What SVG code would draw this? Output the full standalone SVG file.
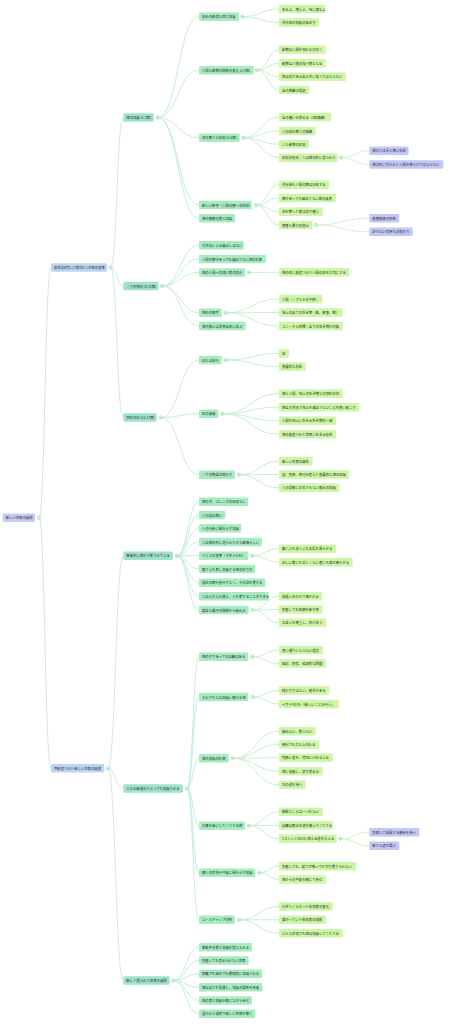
<svg xmlns="http://www.w3.org/2000/svg" width="451" height="1024" viewBox="0 0 451 1024">
<style>
rect{rx:1.3px;ry:1.3px}
.r{fill:#c8cbf6}.l1{fill:#bcd5f2}.l2{fill:#a0e2cd}.l3{fill:#a6ecc0}.l4{fill:#cdf6a6}.l5{fill:#c3c7f7}
text{font-family:"Noto Sans CJK JP","Noto Sans",sans-serif;font-size:3.36px;fill:#2a2a2a;dominant-baseline:central}
path{fill:none;stroke-width:1}
.k0{stroke:#dcdcf7}.k1{stroke:#d6e4f4}.k2{stroke:#c4eedb}.k3{stroke:#c6f0d2}.k4{stroke:#d6f1cc}
.c{fill:#fff;stroke:#8fcfa8;stroke-width:.6}
.d{fill:#6aa884}
</style>
<g id="connectors">
<path class="k0" d="M39,517.8 C45,517.8 45,267.5 51,267.5"/>
<path class="k0" d="M39,517.8 C45,517.8 45,768.3 51,768.3"/>
<path class="k1" d="M110.5,267.5 C116.9,267.5 116.9,117.5 123.3,117.5"/>
<path class="k1" d="M110.5,267.5 C116.9,267.5 116.9,286 123.3,286"/>
<path class="k1" d="M110.5,267.5 C116.9,267.5 116.9,417.5 123.3,417.5"/>
<path class="k1" d="M108,768.3 C115.6,768.3 115.6,555.8 123.3,555.8"/>
<path class="k1" d="M108,768.3 C115.6,768.3 115.6,788.5 123.3,788.5"/>
<path class="k1" d="M108,768.3 C115.6,768.3 115.6,980.5 123.3,980.5"/>
<path class="k2" d="M157.7,117.5 C178.3,117.5 178.3,16.7 199,16.7"/>
<path class="k2" d="M157.7,117.5 C178.3,117.5 178.3,70.2 199,70.2"/>
<path class="k2" d="M157.7,117.5 C178.3,117.5 178.3,137.7 199,137.7"/>
<path class="k2" d="M157.7,117.5 C178.3,117.5 178.3,205 199,205"/>
<path class="k2" d="M157.7,117.5 C178.3,117.5 178.3,218.3 199,218.3"/>
<path class="k2" d="M162,286 C180.5,286 180.5,245.3 199,245.3"/>
<path class="k2" d="M162,286 C180.5,286 180.5,259 199,259"/>
<path class="k2" d="M162,286 C180.5,286 180.5,272.5 199,272.5"/>
<path class="k2" d="M162,286 C180.5,286 180.5,312.8 199,312.8"/>
<path class="k2" d="M162,286 C180.5,286 180.5,326 199,326"/>
<path class="k2" d="M160.7,417.5 C179.8,417.5 179.8,360 199,360"/>
<path class="k2" d="M160.7,417.5 C179.8,417.5 179.8,413.7 199,413.7"/>
<path class="k2" d="M160.7,417.5 C179.8,417.5 179.8,474.7 199,474.7"/>
<path class="k2" d="M176.7,555.8 C187.8,555.8 187.8,501.7 199,501.7"/>
<path class="k2" d="M176.7,555.8 C187.8,555.8 187.8,515 199,515"/>
<path class="k2" d="M176.7,555.8 C187.8,555.8 187.8,528.3 199,528.3"/>
<path class="k2" d="M176.7,555.8 C187.8,555.8 187.8,542 199,542"/>
<path class="k2" d="M176.7,555.8 C187.8,555.8 187.8,555.7 199,555.7"/>
<path class="k2" d="M176.7,555.8 C187.8,555.8 187.8,569 199,569"/>
<path class="k2" d="M176.7,555.8 C187.8,555.8 187.8,582.7 199,582.7"/>
<path class="k2" d="M176.7,555.8 C187.8,555.8 187.8,596.3 199,596.3"/>
<path class="k2" d="M176.7,555.8 C187.8,555.8 187.8,610 199,610"/>
<path class="k2" d="M187,788.5 C193,788.5 193,656.8 199,656.8"/>
<path class="k2" d="M187,788.5 C193,788.5 193,697 199,697"/>
<path class="k2" d="M187,788.5 C193,788.5 193,758.3 199,758.3"/>
<path class="k2" d="M187,788.5 C193,788.5 193,825.7 199,825.7"/>
<path class="k2" d="M187,788.5 C193,788.5 193,872.8 199,872.8"/>
<path class="k2" d="M187,788.5 C193,788.5 193,919.8 199,919.8"/>
<path class="k2" d="M173.3,980.5 C186.1,980.5 186.1,947.2 199,947.2"/>
<path class="k2" d="M173.3,980.5 C186.1,980.5 186.1,960.5 199,960.5"/>
<path class="k2" d="M173.3,980.5 C186.1,980.5 186.1,973.8 199,973.8"/>
<path class="k2" d="M173.3,980.5 C186.1,980.5 186.1,987.2 199,987.2"/>
<path class="k2" d="M173.3,980.5 C186.1,980.5 186.1,1000.5 199,1000.5"/>
<path class="k2" d="M173.3,980.5 C186.1,980.5 186.1,1013.8 199,1013.8"/>
<path class="k3" d="M242.3,16.7 C260.6,16.7 260.6,9 279,9"/>
<path class="k3" d="M242.3,16.7 C260.6,16.7 260.6,22.5 279,22.5"/>
<path class="k3" d="M257,70.2 C268,70.2 268,49.8 279,49.8"/>
<path class="k3" d="M257,70.2 C268,70.2 268,63.3 279,63.3"/>
<path class="k3" d="M257,70.2 C268,70.2 268,76.7 279,76.7"/>
<path class="k3" d="M257,70.2 C268,70.2 268,90 279,90"/>
<path class="k3" d="M243.7,137.7 C261.3,137.7 261.3,117 279,117"/>
<path class="k3" d="M243.7,137.7 C261.3,137.7 261.3,131 279,131"/>
<path class="k3" d="M243.7,137.7 C261.3,137.7 261.3,144.3 279,144.3"/>
<path class="k3" d="M243.7,137.7 C261.3,137.7 261.3,157.7 279,157.7"/>
<path class="k4" d="M341,157.7 C355.1,157.7 355.1,150.8 369.3,150.8"/>
<path class="k4" d="M341,157.7 C355.1,157.7 355.1,164.5 369.3,164.5"/>
<path class="k3" d="M256,205 C267.5,205 267.5,184.7 279,184.7"/>
<path class="k3" d="M256,205 C267.5,205 267.5,198 279,198"/>
<path class="k3" d="M256,205 C267.5,205 267.5,211.7 279,211.7"/>
<path class="k3" d="M256,205 C267.5,205 267.5,225 279,225"/>
<path class="k4" d="M316,225 C342.6,225 342.6,218.2 369.3,218.2"/>
<path class="k4" d="M316,225 C342.6,225 342.6,231.8 369.3,231.8"/>
<path class="k3" d="M249,272.5 C264,272.5 264,272.3 279,272.3"/>
<path class="k3" d="M225.7,312.8 C252.3,312.8 252.3,299 279,299"/>
<path class="k3" d="M225.7,312.8 C252.3,312.8 252.3,312.5 279,312.5"/>
<path class="k3" d="M225.7,312.8 C252.3,312.8 252.3,326 279,326"/>
<path class="k3" d="M225.7,360 C252.3,360 252.3,353.5 279,353.5"/>
<path class="k3" d="M225.7,360 C252.3,360 252.3,366.8 279,366.8"/>
<path class="k3" d="M222.3,413.7 C250.6,413.7 250.6,393.8 279,393.8"/>
<path class="k3" d="M222.3,413.7 C250.6,413.7 250.6,407.2 279,407.2"/>
<path class="k3" d="M222.3,413.7 C250.6,413.7 250.6,420.8 279,420.8"/>
<path class="k3" d="M222.3,413.7 C250.6,413.7 250.6,434.2 279,434.2"/>
<path class="k3" d="M239,474.7 C259,474.7 259,461.2 279,461.2"/>
<path class="k3" d="M239,474.7 C259,474.7 259,474.5 279,474.5"/>
<path class="k3" d="M239,474.7 C259,474.7 259,487.8 279,487.8"/>
<path class="k3" d="M252,555.7 C265.5,555.7 265.5,548.8 279,548.8"/>
<path class="k3" d="M252,555.7 C265.5,555.7 265.5,562.2 279,562.2"/>
<path class="k3" d="M252.7,610 C265.8,610 265.8,596.2 279,596.2"/>
<path class="k3" d="M252.7,610 C265.8,610 265.8,609.5 279,609.5"/>
<path class="k3" d="M252.7,610 C265.8,610 265.8,622.8 279,622.8"/>
<path class="k3" d="M252.3,656.8 C265.6,656.8 265.6,650.2 279,650.2"/>
<path class="k3" d="M252.3,656.8 C265.6,656.8 265.6,663.5 279,663.5"/>
<path class="k3" d="M252.7,697 C265.8,697 265.8,690.5 279,690.5"/>
<path class="k3" d="M252.7,697 C265.8,697 265.8,704 279,704"/>
<path class="k3" d="M232.7,758.3 C255.8,758.3 255.8,731.2 279,731.2"/>
<path class="k3" d="M232.7,758.3 C255.8,758.3 255.8,744.5 279,744.5"/>
<path class="k3" d="M232.7,758.3 C255.8,758.3 255.8,757.8 279,757.8"/>
<path class="k3" d="M232.7,758.3 C255.8,758.3 255.8,771.3 279,771.3"/>
<path class="k3" d="M232.7,758.3 C255.8,758.3 255.8,784.8 279,784.8"/>
<path class="k3" d="M249,825.7 C264,825.7 264,811.8 279,811.8"/>
<path class="k3" d="M249,825.7 C264,825.7 264,825.3 279,825.3"/>
<path class="k3" d="M249,825.7 C264,825.7 264,838.7 279,838.7"/>
<path class="k4" d="M340.3,838.7 C354.8,838.7 354.8,832.2 369.3,832.2"/>
<path class="k4" d="M340.3,838.7 C354.8,838.7 354.8,845.8 369.3,845.8"/>
<path class="k3" d="M259.3,872.8 C269.1,872.8 269.1,866.2 279,866.2"/>
<path class="k3" d="M259.3,872.8 C269.1,872.8 269.1,879.5 279,879.5"/>
<path class="k3" d="M239,919.8 C259,919.8 259,906.5 279,906.5"/>
<path class="k3" d="M239,919.8 C259,919.8 259,919.8 279,919.8"/>
<path class="k3" d="M239,919.8 C259,919.8 259,933.3 279,933.3"/>
</g>
<g id="root"><rect class="r" x="2.7" y="513.5" width="32.3" height="8.6"/><text x="5.7" y="517.8">新しい世界の展開</text><circle class="c" cx="39" cy="517.8" r="1.7"/><circle class="d" cx="39" cy="517.8" r="0.6"/></g>
<g id="l1a"><rect class="l1" x="51" y="263.2" width="56" height="8.6"/><text x="54" y="267.5">創世記9章1-17節の2つの神の言葉</text><circle class="c" cx="110.5" cy="267.5" r="1.7"/><circle class="d" cx="110.5" cy="267.5" r="0.6"/></g>
<g id="l1b"><rect class="l1" x="51" y="764" width="53.3" height="8.6"/><text x="54" y="768.3">再創造された新しい世界の展望</text><circle class="c" cx="108" cy="768.3" r="1.7"/><circle class="d" cx="108" cy="768.3" r="0.6"/></g>
<g id="a1"><rect class="l2" x="123.3" y="113.2" width="30.4" height="8.6"/><text x="126.3" y="117.5">神の祝福 (1-7節)</text><circle class="c" cx="157.7" cy="117.5" r="1.7"/><circle class="d" cx="157.7" cy="117.5" r="0.6"/></g>
<g id="a2"><rect class="l2" x="123.3" y="281.7" width="35" height="8.6"/><text x="126.3" y="286">ノアの契約 (8-11節)</text><circle class="c" cx="162" cy="286" r="1.7"/><circle class="d" cx="162" cy="286" r="0.6"/></g>
<g id="a3"><rect class="l2" x="123.3" y="413.2" width="33.4" height="8.6"/><text x="126.3" y="417.5">契約の印 (12-17節)</text><circle class="c" cx="160.7" cy="417.5" r="1.7"/><circle class="d" cx="160.7" cy="417.5" r="0.6"/></g>
<g id="b1"><rect class="l2" x="123.3" y="551.5" width="49.7" height="8.6"/><text x="126.3" y="555.8">無条件に神から愛されている</text><circle class="c" cx="176.7" cy="555.8" r="1.7"/><circle class="d" cx="176.7" cy="555.8" r="0.6"/></g>
<g id="b2"><rect class="l2" x="123.3" y="784.2" width="59.7" height="8.6"/><text x="126.3" y="788.5">どんな経過をたどっても祝福される</text><circle class="c" cx="187" cy="788.5" r="1.7"/><circle class="d" cx="187" cy="788.5" r="0.6"/></g>
<g id="b3"><rect class="l2" x="123.3" y="976.2" width="46.4" height="8.6"/><text x="126.3" y="980.5">新しく造られた世界の展開</text><circle class="c" cx="173.3" cy="980.5" r="1.7"/><circle class="d" cx="173.3" cy="980.5" r="0.6"/></g>
<g id="a1-1"><rect class="l3" x="199" y="12.4" width="40" height="8.6"/><text x="202" y="16.7">初めの創造と同じ祝福</text><circle class="c" cx="242.3" cy="16.7" r="1.7"/><circle class="d" cx="242.3" cy="16.7" r="0.6"/></g>
<g id="a1-2"><rect class="l3" x="199" y="65.9" width="54.7" height="8.6"/><text x="202" y="70.2">人間と動物の関係の変化 (2-4節)</text><circle class="c" cx="257" cy="70.2" r="1.7"/><circle class="d" cx="257" cy="70.2" r="0.6"/></g>
<g id="a1-3"><rect class="l3" x="199" y="133.4" width="40.7" height="8.6"/><text x="202" y="137.7">命の尊さと区別 (5-6節)</text><circle class="c" cx="243.7" cy="137.7" r="1.7"/><circle class="d" cx="243.7" cy="137.7" r="0.6"/></g>
<g id="a1-4"><rect class="l3" x="199" y="200.7" width="52.7" height="8.6"/><text x="202" y="205">新しい秩序（人間の罪への対処）</text><circle class="c" cx="256" cy="205" r="1.7"/><circle class="d" cx="256" cy="205" r="0.6"/></g>
<g id="a1-5"><rect class="l3" x="199" y="214" width="36" height="8.6"/><text x="202" y="218.3">神の無限の愛と祝福</text></g>
<g id="a2-1"><rect class="l3" x="199" y="241" width="44.7" height="8.6"/><text x="202" y="245.3">大洪水による滅ぼしはない</text></g>
<g id="a2-2"><rect class="l3" x="199" y="254.7" width="66.7" height="8.6"/><text x="202" y="259">人間の罪があっても滅ぼさない神の約束</text></g>
<g id="a2-3"><rect class="l3" x="199" y="268.2" width="46.3" height="8.6"/><text x="202" y="272.5">神の人間への深い愛の表れ</text><circle class="c" cx="249" cy="272.5" r="1.7"/><circle class="d" cx="249" cy="272.5" r="0.6"/></g>
<g id="a2-4"><rect class="l3" x="199" y="308.5" width="22.7" height="8.6"/><text x="202" y="312.8">契約の相手</text><circle class="c" cx="225.7" cy="312.8" r="1.7"/><circle class="d" cx="225.7" cy="312.8" r="0.6"/></g>
<g id="a2-5"><rect class="l3" x="199" y="321.7" width="46.7" height="8.6"/><text x="202" y="326">神の救いは世界全体に及ぶ</text></g>
<g id="a3-1"><rect class="l3" x="199" y="355.7" width="22.7" height="8.6"/><text x="202" y="360">印とは何か</text><circle class="c" cx="225.7" cy="360" r="1.7"/><circle class="d" cx="225.7" cy="360" r="0.6"/></g>
<g id="a3-2"><rect class="l3" x="199" y="409.4" width="19.3" height="8.6"/><text x="202" y="413.7">虹の意味</text><circle class="c" cx="222.3" cy="413.7" r="1.7"/><circle class="d" cx="222.3" cy="413.7" r="0.6"/></g>
<g id="a3-3"><rect class="l3" x="199" y="470.4" width="36" height="8.6"/><text x="202" y="474.7">ノアの物語の終わり</text><circle class="c" cx="239" cy="474.7" r="1.7"/><circle class="d" cx="239" cy="474.7" r="0.6"/></g>
<g id="b1-1"><rect class="l3" x="199" y="497.4" width="49.3" height="8.6"/><text x="202" y="501.7">神の子、フレンズの区別なし</text></g>
<g id="b1-2"><rect class="l3" x="199" y="510.7" width="26.3" height="8.6"/><text x="202" y="515">人の命は尊い</text></g>
<g id="b1-3"><rect class="l3" x="199" y="524" width="42.3" height="8.6"/><text x="202" y="528.3">人の行動に関わらず祝福</text></g>
<g id="b1-4"><rect class="l3" x="199" y="537.7" width="63" height="8.6"/><text x="202" y="542">人は神の形に造られたから素晴らしい</text></g>
<g id="b1-5"><rect class="l3" x="199" y="551.4" width="49.3" height="8.6"/><text x="202" y="555.7">イエスの言葉（マタイ5:45）</text><circle class="c" cx="252" cy="555.7" r="1.7"/><circle class="d" cx="252" cy="555.7" r="0.6"/></g>
<g id="b1-6"><rect class="l3" x="199" y="564.7" width="56.3" height="8.6"/><text x="202" y="569">敵さえも愛し祝福する神の在り方</text></g>
<g id="b1-7"><rect class="l3" x="199" y="578.4" width="66.3" height="8.6"/><text x="202" y="582.7">過去の罪や善行でなく、今の命を愛する</text></g>
<g id="b1-8"><rect class="l3" x="199" y="592" width="69.7" height="8.6"/><text x="202" y="596.3">人は心を入れ替え、人を愛することができる</text></g>
<g id="b1-9"><rect class="l3" x="199" y="605.7" width="49.7" height="8.6"/><text x="202" y="610">健全な親子の関係から始める</text><circle class="c" cx="252.7" cy="610" r="1.7"/><circle class="d" cx="252.7" cy="610" r="0.6"/></g>
<g id="b2-1"><rect class="l3" x="199" y="652.5" width="49.3" height="8.6"/><text x="202" y="656.8">神の子であっても試練はある</text><circle class="c" cx="252.3" cy="656.8" r="1.7"/><circle class="d" cx="252.3" cy="656.8" r="0.6"/></g>
<g id="b2-2"><rect class="l3" x="199" y="692.7" width="49.3" height="8.6"/><text x="202" y="697">それでもなお祝福し続ける神</text><circle class="c" cx="252.7" cy="697" r="1.7"/><circle class="d" cx="252.7" cy="697" r="0.6"/></g>
<g id="b2-3"><rect class="l3" x="199" y="754" width="29.7" height="8.6"/><text x="202" y="758.3">神の祝福の約束</text><circle class="c" cx="232.7" cy="758.3" r="1.7"/><circle class="d" cx="232.7" cy="758.3" r="0.6"/></g>
<g id="b2-4"><rect class="l3" x="199" y="821.4" width="46" height="8.6"/><text x="202" y="825.7">万事を益にしてくださる神</text><circle class="c" cx="249" cy="825.7" r="1.7"/><circle class="d" cx="249" cy="825.7" r="0.6"/></g>
<g id="b2-5"><rect class="l3" x="199" y="868.5" width="56.3" height="8.6"/><text x="202" y="872.8">個人の状況や不安に関わらず祝福</text><circle class="c" cx="259.3" cy="872.8" r="1.7"/><circle class="d" cx="259.3" cy="872.8" r="0.6"/></g>
<g id="b2-6"><rect class="l3" x="199" y="915.5" width="35.7" height="8.6"/><text x="202" y="919.8">ユースキャンプの例</text><circle class="c" cx="239" cy="919.8" r="1.7"/><circle class="d" cx="239" cy="919.8" r="0.6"/></g>
<g id="b3-1"><rect class="l3" x="199" y="942.9" width="53" height="8.6"/><text x="202" y="947.2">無条件の愛と祝福を受け入れる</text></g>
<g id="b3-2"><rect class="l3" x="199" y="956.2" width="49.7" height="8.6"/><text x="202" y="960.5">失敗しても責められない世界</text></g>
<g id="b3-3"><rect class="l3" x="199" y="969.5" width="63.3" height="8.6"/><text x="202" y="973.8">困難でも挫折でも最終的に祝福される</text></g>
<g id="b3-4"><rect class="l3" x="199" y="982.9" width="63.3" height="8.6"/><text x="202" y="987.2">神は全てを見通し、祝福の場所を用意</text></g>
<g id="b3-5"><rect class="l3" x="199" y="996.2" width="53" height="8.6"/><text x="202" y="1000.5">神の愛と祝福を感じながら歩む</text></g>
<g id="b3-6"><rect class="l3" x="199" y="1009.5" width="56.3" height="8.6"/><text x="202" y="1013.8">置かれた場所で新しい世界を築く</text></g>
<g id="c1"><rect class="l4" x="279" y="4.7" width="46" height="8.6"/><text x="282" y="9">生めよ、増えよ、地に満ちよ</text></g>
<g id="c2"><rect class="l4" x="279" y="18.2" width="40" height="8.6"/><text x="282" y="22.5">洪水後の祝福の始まり</text></g>
<g id="c3"><rect class="l4" x="279" y="45.5" width="46.7" height="8.6"/><text x="282" y="49.8">動物は人間を恐れおののく</text></g>
<g id="c4"><rect class="l4" x="279" y="59" width="46.7" height="8.6"/><text x="282" y="63.3">動物は人間の食べ物となる</text></g>
<g id="c5"><rect class="l4" x="279" y="72.4" width="67" height="8.6"/><text x="282" y="76.7">肉は命である血と共に食べてはならない</text></g>
<g id="c6"><rect class="l4" x="279" y="85.7" width="30" height="8.6"/><text x="282" y="90">血の尊厳の規定</text></g>
<g id="c7"><rect class="l4" x="279" y="112.7" width="52" height="8.6"/><text x="282" y="117">血の償いを求める（3回強調）</text></g>
<g id="c8"><rect class="l4" x="279" y="126.7" width="36.7" height="8.6"/><text x="282" y="131">人の命の尊さの強調</text></g>
<g id="c9"><rect class="l4" x="279" y="140" width="30" height="8.6"/><text x="282" y="144.3">人と動物の区別</text></g>
<g id="c10"><rect class="l4" x="279" y="153.4" width="58.7" height="8.6"/><text x="282" y="157.7">区別の理由：人は神の形に造られた</text><circle class="c" cx="341" cy="157.7" r="1.7"/><circle class="d" cx="341" cy="157.7" r="0.6"/></g>
<g id="e1"><rect class="l5" x="369.3" y="146.5" width="39.4" height="8.6"/><text x="372.3" y="150.8">神のさばきと尊い存在</text></g>
<g id="e2"><rect class="l5" x="369.3" y="160.2" width="74" height="8.6"/><text x="372.3" y="164.5">神の形に作られた人間を傷つけてはならない</text></g>
<g id="c11"><rect class="l4" x="279" y="180.4" width="50.3" height="8.6"/><text x="282" y="184.7">洪水後も人間の罪は存在する</text></g>
<g id="c12"><rect class="l4" x="279" y="193.7" width="57" height="8.6"/><text x="282" y="198">罪があっても滅ぼさない神の意思</text></g>
<g id="c13"><rect class="l4" x="279" y="207.4" width="43.7" height="8.6"/><text x="282" y="211.7">命を奪った者は命で償う</text></g>
<g id="c14"><rect class="l4" x="279" y="220.7" width="33.7" height="8.6"/><text x="282" y="225">復讐と暴力の防止</text><circle class="c" cx="316" cy="225" r="1.7"/><circle class="d" cx="316" cy="225" r="0.6"/></g>
<g id="e3"><rect class="l5" x="369.3" y="213.9" width="30" height="8.6"/><text x="372.3" y="218.2">殺害報復の抑制</text></g>
<g id="e4"><rect class="l5" x="369.3" y="227.5" width="43.4" height="8.6"/><text x="372.3" y="231.8">許せない気持ちの終わり</text></g>
<g id="c15"><rect class="l4" x="279" y="268" width="70.3" height="8.6"/><text x="282" y="272.3">神の形に創造された人間の命を大切にする</text></g>
<g id="c16"><rect class="l4" x="279" y="294.7" width="43.3" height="8.6"/><text x="282" y="299">人間（ノアとその子孫）</text></g>
<g id="c17"><rect class="l4" x="279" y="308.2" width="63.7" height="8.6"/><text x="282" y="312.5">地上の全ての生き物（鳥、家畜、獣）</text></g>
<g id="c18"><rect class="l4" x="279" y="321.7" width="63.7" height="8.6"/><text x="282" y="326">ユニークな特徴：全ての生き物が対象</text></g>
<g id="c19"><rect class="l4" x="279" y="349.2" width="10" height="8.6"/><text x="282" y="353.5">虹</text></g>
<g id="c20"><rect class="l4" x="279" y="362.5" width="26.7" height="8.6"/><text x="282" y="366.8">普遍的な存在</text></g>
<g id="c21"><rect class="l4" x="279" y="389.5" width="63.7" height="8.6"/><text x="282" y="393.8">神と人間、地上の生き物との契約の印</text></g>
<g id="c22"><rect class="l4" x="279" y="402.9" width="80.3" height="8.6"/><text x="282" y="407.2">神は大洪水で地上を滅ぼさないことを思い起こす</text></g>
<g id="c23"><rect class="l4" x="279" y="416.5" width="57" height="8.6"/><text x="282" y="420.8">人間も地上に生きる生き物の一部</text></g>
<g id="c24"><rect class="l4" x="279" y="429.9" width="57" height="8.6"/><text x="282" y="434.2">神の創造された世界に生きる存在</text></g>
<g id="c25"><rect class="l4" x="279" y="456.9" width="33.7" height="8.6"/><text x="282" y="461.2">新しい世界の誕生</text></g>
<g id="c26"><rect class="l4" x="279" y="470.2" width="70.3" height="8.6"/><text x="282" y="474.5">国、民族、時代を超えた普遍的な神の祝福</text></g>
<g id="c27"><rect class="l4" x="279" y="483.5" width="60.3" height="8.6"/><text x="282" y="487.8">人の見解に左右されない恵みの祝福</text></g>
<g id="c28"><rect class="l4" x="279" y="544.5" width="57" height="8.6"/><text x="282" y="548.8">悪人にも善人にも太陽を昇らせる</text></g>
<g id="c29"><rect class="l4" x="279" y="557.9" width="73.7" height="8.6"/><text x="282" y="562.2">正しい者にも正しくない者にも雨を降らせる</text></g>
<g id="c30"><rect class="l4" x="279" y="591.9" width="43.3" height="8.6"/><text x="282" y="596.2">成長に合わせて導かれる</text></g>
<g id="c31"><rect class="l4" x="279" y="605.2" width="43.7" height="8.6"/><text x="282" y="609.5">失敗しても回復を促す神</text></g>
<g id="c32"><rect class="l4" x="279" y="618.5" width="47" height="8.6"/><text x="282" y="622.8">お互いを尊重し、助け合う</text></g>
<g id="c33"><rect class="l4" x="279" y="645.9" width="43.7" height="8.6"/><text x="282" y="650.2">思い通りにならない現実</text></g>
<g id="c34"><rect class="l4" x="279" y="659.2" width="47" height="8.6"/><text x="282" y="663.5">挫折、病気、経済的な問題</text></g>
<g id="c35"><rect class="l4" x="279" y="686.2" width="50.3" height="8.6"/><text x="282" y="690.5">終わりではない、続きがある</text></g>
<g id="c36"><rect class="l4" x="279" y="699.7" width="59.7" height="8.6"/><text x="282" y="704">イザヤ43:19 「新しいことを行う」</text></g>
<g id="c37"><rect class="l4" x="279" y="726.9" width="36.7" height="8.6"/><text x="282" y="731.2">諦めない、焦らない</text></g>
<g id="c38"><rect class="l4" x="279" y="740.2" width="40" height="8.6"/><text x="282" y="744.5">倒れても立ち上がれる</text></g>
<g id="c39"><rect class="l4" x="279" y="753.5" width="53.7" height="8.6"/><text x="282" y="757.8">荒野に道を、荒地に川を与える</text></g>
<g id="c40"><rect class="l4" x="279" y="767" width="43.7" height="8.6"/><text x="282" y="771.3">神に信頼し、祈り求める</text></g>
<g id="c41"><rect class="l4" x="279" y="780.5" width="26.7" height="8.6"/><text x="282" y="784.8">次の道を待つ</text></g>
<g id="c42"><rect class="l4" x="279" y="807.5" width="43.7" height="8.6"/><text x="282" y="811.8">無駄なことは一つもない</text></g>
<g id="c43"><rect class="l4" x="279" y="821" width="53.7" height="8.6"/><text x="282" y="825.3">試練は脱出の道を備えてくださる</text></g>
<g id="c44"><rect class="l4" x="279" y="834.4" width="57.7" height="8.6"/><text x="282" y="838.7">1コリント10:13: 耐える道を与える</text><circle class="c" cx="340.3" cy="838.7" r="1.7"/><circle class="d" cx="340.3" cy="838.7" r="0.6"/></g>
<g id="e5"><rect class="l5" x="369.3" y="827.9" width="50" height="8.6"/><text x="372.3" y="832.2">忍耐して成長する機会を持つ</text></g>
<g id="e6"><rect class="l5" x="369.3" y="841.5" width="30" height="8.6"/><text x="372.3" y="845.8">新たな道を選ぶ</text></g>
<g id="c45"><rect class="l4" x="279" y="861.9" width="77" height="8.6"/><text x="282" y="866.2">失敗しても、弱さが残っても切り捨てられない</text></g>
<g id="c46"><rect class="l4" x="279" y="875.2" width="47" height="8.6"/><text x="282" y="879.5">神からの平安を感じて歩む</text></g>
<g id="c47"><rect class="l4" x="279" y="902.2" width="53.7" height="8.6"/><text x="282" y="906.5">行きたくなかった参加者の変化</text></g>
<g id="c48"><rect class="l4" x="279" y="915.5" width="47" height="8.6"/><text x="282" y="919.8">嫌がっていた参加者の成長</text></g>
<g id="c49"><rect class="l4" x="279" y="929" width="63.7" height="8.6"/><text x="282" y="933.3">どんな状況でも神は祝福してくださる</text></g>
</svg>
